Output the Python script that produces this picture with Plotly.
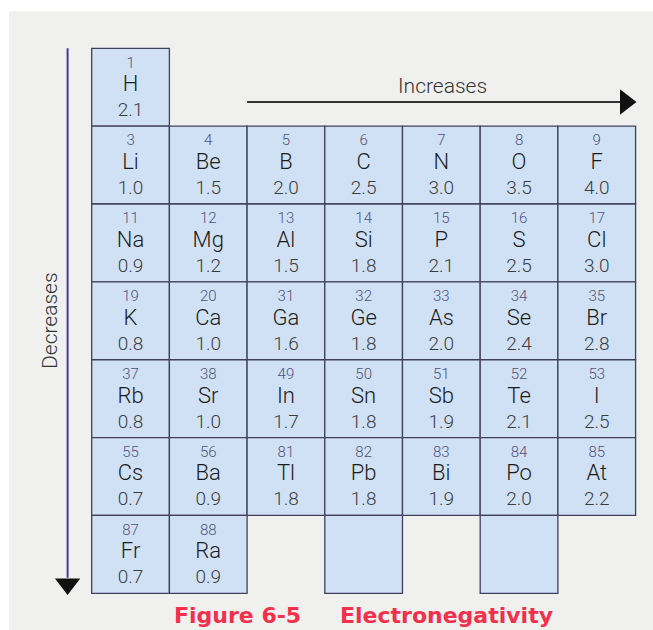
import plotly.graph_objects as go

# ---- data ----
symbols = ["H",
           "Li", "Be", "B", "C", "N", "O", "F",
           "Na", "Mg", "Al", "Si", "P", "S", "Cl",
           "K", "Ca", "Ga", "Ge", "As", "Se", "Br",
           "Rb", "Sr", "In", "Sn", "Sb", "Te", "I",
           "Cs", "Ba", "Tl", "Pb", "Bi", "Po", "At",
           "Fr", "Ra"]
numbers = [1,
           3, 4, 5, 6, 7, 8, 9,
           11, 12, 13, 14, 15, 16, 17,
           19, 20, 31, 32, 33, 34, 35,
           37, 38, 49, 50, 51, 52, 53,
           55, 56, 81, 82, 83, 84, 85,
           87, 88]
electroneg = [2.1,
              1.0, 1.5, 2.0, 2.5, 3.0, 3.5, 4.0,
              0.9, 1.2, 1.5, 1.8, 2.1, 2.5, 3.0,
              0.8, 1.0, 1.6, 1.8, 2.0, 2.4, 2.8,
              0.8, 1.0, 1.7, 1.8, 1.9, 2.1, 2.5,
              0.7, 0.9, 1.8, 1.8, 1.9, 2.0, 2.2,
              0.7, 0.9]
cols = [1,
        1, 2, 3, 4, 5, 6, 7,
        1, 2, 3, 4, 5, 6, 7,
        1, 2, 3, 4, 5, 6, 7,
        1, 2, 3, 4, 5, 6, 7,
        1, 2, 3, 4, 5, 6, 7,
        1, 2]
rows = [1,
        2, 2, 2, 2, 2, 2, 2,
        3, 3, 3, 3, 3, 3, 3,
        4, 4, 4, 4, 4, 4, 4,
        5, 5, 5, 5, 5, 5, 5,
        6, 6, 6, 6, 6, 6, 6,
        7, 7]
empty_cols = [4, 6]
empty_rows = [7, 7]

horizontal_label = "Increases"
vertical_label = "Decreases"
caption_a = "Figure 6-5"
caption_b = "Electronegativity"

# ---- styles ----
CELL_FILL = "#d0e1f6"
CELL_LINE = "#40405e"
PAPER = "#f0f0ef"
FONT = "Roboto"

fig = go.Figure()

shapes = []
# textured page area (white strip at top/left like the scan)
shapes.append(dict(type="rect", xref="paper", yref="paper", x0=0.014, x1=1, y0=0, y1=0.982,
                   fillcolor=PAPER, line=dict(width=0), layer="below"))
for c, r in list(zip(cols, rows)) + list(zip(empty_cols, empty_rows)):
    shapes.append(dict(type="rect", xref="x", yref="y", x0=c - 0.5, x1=c + 0.5, y0=r - 0.5, y1=r + 0.5,
                       fillcolor=CELL_FILL, line=dict(color=CELL_LINE, width=1.3), layer="below"))

# vertical arrow line
shapes.append(dict(type="line", xref="x", yref="y", x0=0.19, x1=0.19, y0=0.5, y1=7.3,
                   line=dict(color="#3e3e9c", width=2)))
# horizontal arrow line
shapes.append(dict(type="line", xref="x", yref="y", x0=2.5, x1=7.3, y0=1.19, y1=1.19,
                   line=dict(color="#333333", width=2)))

# arrow heads
fig.add_trace(go.Scatter(x=[0.19], y=[7.38], mode="markers",
                         marker=dict(symbol="triangle-down", size=22, color="#111111"),
                         hoverinfo="skip", showlegend=False))
fig.add_trace(go.Scatter(x=[7.37], y=[1.19], mode="markers",
                         marker=dict(symbol="triangle-right", size=22, color="#111111"),
                         hoverinfo="skip", showlegend=False))

# cell texts
fig.add_trace(go.Scatter(x=cols, y=[r - 0.30 for r in rows], mode="text",
                         text=[str(n) for n in numbers],
                         textfont=dict(family=FONT, size=15, color="#50507c", weight=300),
                         hoverinfo="skip", showlegend=False))
fig.add_trace(go.Scatter(x=cols, y=[r - 0.02 for r in rows], mode="text",
                         text=symbols,
                         textfont=dict(family=FONT, size=22, color="#1c1c1c", weight=300),
                         hoverinfo="skip", showlegend=False))
fig.add_trace(go.Scatter(x=cols, y=[r + 0.31 for r in rows], mode="text",
                         text=[f"{v:.1f}" for v in electroneg],
                         textfont=dict(family=FONT, size=19, color="#3c3c3c", weight=300),
                         hoverinfo="skip", showlegend=False))

annotations = [
    dict(x=5.02, y=0.985, xref="x", yref="y", text=horizontal_label, showarrow=False,
         font=dict(family=FONT, size=21, color="#333333", weight=300)),
    dict(x=-0.037, y=3.99, xref="x", yref="y", text=vertical_label, showarrow=False, textangle=-90,
         font=dict(family=FONT, size=21, color="#333333", weight=300)),
    dict(x=1.533, y=7.79, xref="x", yref="y", text=caption_a, showarrow=False, xanchor="left",
         font=dict(family="DejaVu Sans", size=22, color="#f2304c", weight="bold")),
    dict(x=3.67, y=7.79, xref="x", yref="y", text=caption_b, showarrow=False, xanchor="left",
         font=dict(family="DejaVu Sans", size=22, color="#f2304c", weight="bold")),
]

fig.update_layout(
    width=653, height=630,
    margin=dict(l=0, r=0, t=0, b=0),
    paper_bgcolor="white", plot_bgcolor="rgba(0,0,0,0)",
    shapes=shapes, annotations=annotations,
    xaxis=dict(range=[-0.680, 7.724], visible=False, fixedrange=True),
    yaxis=dict(range=[7.971, -0.120], visible=False, fixedrange=True),
    showlegend=False,
)

fig.write_html("out.html", config={"displayModeBar": False},
               post_script="document.body.style.margin='0';document.body.style.overflow='hidden';")
